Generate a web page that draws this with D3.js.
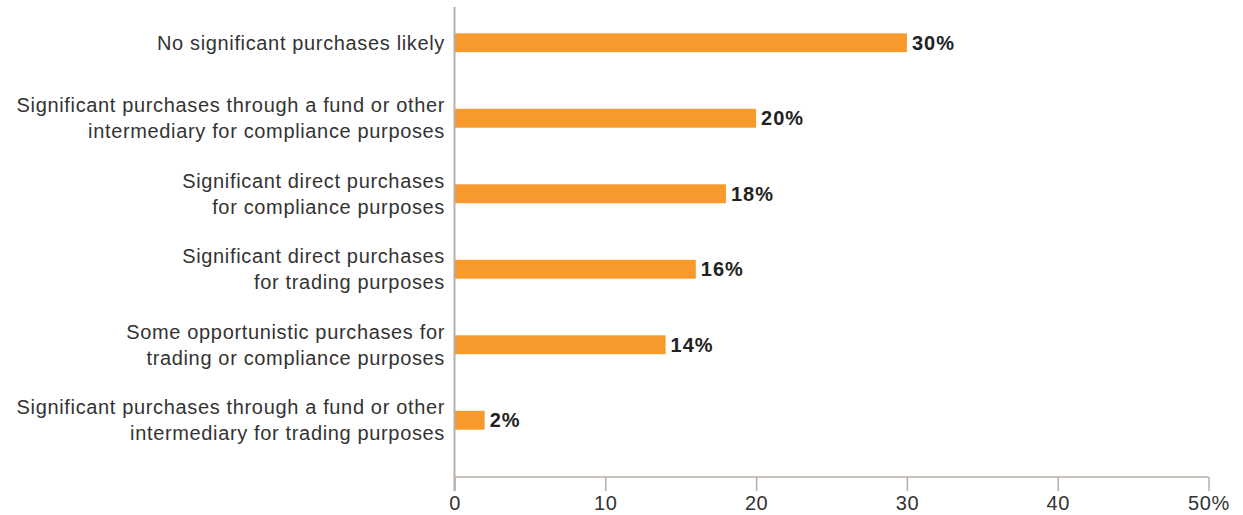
<!DOCTYPE html>
<html><head><meta charset="utf-8">
<script src="https://cdn.jsdelivr.net/npm/d3@7"></script>
<style>body{margin:0;background:#fff;font-family:"Liberation Sans",Arial,sans-serif;}</style>
</head><body>
<svg id="c" width="1243" height="515"></svg>
<script>
const categories = [
  ["No significant purchases likely"],
  ["Significant purchases through a fund or other", "intermediary for compliance purposes"],
  ["Significant direct purchases", "for compliance purposes"],
  ["Significant direct purchases", "for trading purposes"],
  ["Some opportunistic purchases for", "trading or compliance purposes"],
  ["Significant purchases through a fund or other", "intermediary for trading purposes"]
];
const values = [30, 20, 18, 16, 14, 2];
const tickValues = [0, 10, 20, 30, 40, 50];
const tickLabels = ["0", "10", "20", "30", "40", "50%"];

const svg = d3.select("#c");
const x = d3.scaleLinear().domain([0, 50]).range([454.5, 1208.5]);
const y = d3.scaleBand().domain(d3.range(categories.length)).range([5, 458]).paddingInner(0.75).paddingOuter(0.375);
const axisColor = "#b8b0a6";

// bars
svg.selectAll("rect.bar").data(values).join("rect")
  .attr("x", x(0)).attr("y", (d, i) => y(i))
  .attr("width", d => x(d) - x(0)).attr("height", y.bandwidth())
  .attr("fill", "#f7992b");

// value labels
svg.selectAll("text.val").data(values).join("text")
  .attr("x", d => x(d) + 5).attr("y", (d, i) => y(i) + y.bandwidth() / 2)
  .attr("dy", "0.36em").attr("font-size", 20).attr("font-weight", "bold")
  .attr("letter-spacing", "1px")
  .attr("fill", "#222").text(d => d + "%");

// category labels
const lab = svg.selectAll("text.cat").data(categories).join("text")
  .attr("text-anchor", "end").attr("font-size", 20).attr("fill", "#333")
  .attr("letter-spacing", "0.65px");
lab.each(function(lines, i) {
  const cy = y(i) + y.bandwidth() / 2;
  const n = lines.length;
  d3.select(this).selectAll("tspan").data(lines).join("tspan")
    .attr("x", 445)
    .attr("y", (l, j) => cy + (j - (n - 1) / 2) * 26)
    .attr("dy", "0.35em").text(l => l);
});

// y axis line
svg.append("line").attr("x1", x(0)).attr("x2", x(0)).attr("y1", 7).attr("y2", 491)
  .attr("stroke", axisColor).attr("stroke-width", 2);

// x axis
const xAxis = d3.axisBottom(x).tickValues(tickValues).tickSize(14).tickPadding(5)
  .tickFormat((d, i) => tickLabels[i]);
const g = svg.append("g").attr("transform", "translate(0,477)").call(xAxis);
g.select(".domain").attr("stroke", axisColor).attr("stroke-width", 1.5).attr("d", `M${x(0)},0H${x(50)}`);
g.selectAll(".tick line").attr("stroke", axisColor).attr("stroke-width", 1.5);
g.selectAll(".tick text").attr("font-size", 20).attr("fill", "#333").attr("letter-spacing", "0.6px")
  .attr("font-family", "Liberation Sans, Arial, sans-serif");
</script>
</body></html>
